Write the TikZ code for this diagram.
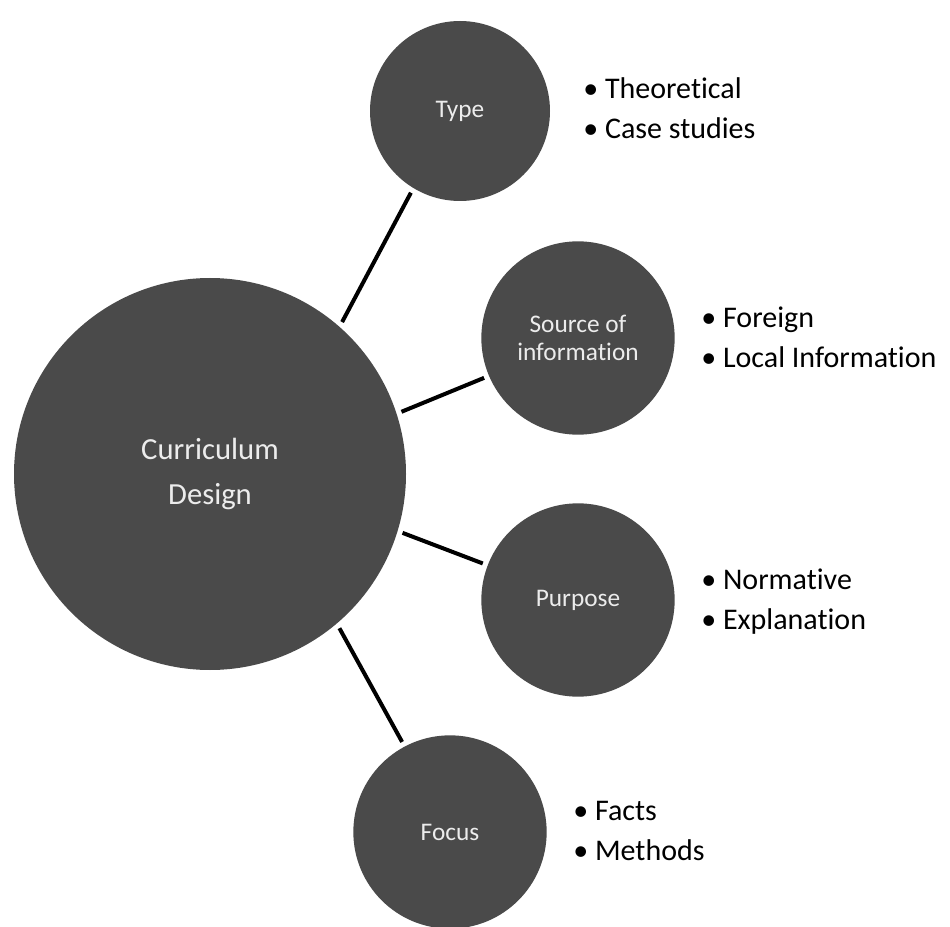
\documentclass[tikz,border=0pt]{standalone}
\usepackage{fontspec}
\setmainfont{Carlito}[Ligatures={NoCommon,NoContextual}]
\usepackage{color}
\usetikzlibrary{positioning}
\definecolor{discgray}{HTML}{4A4A4A}
\definecolor{disctext}{HTML}{ECECEC}
\newcommand{\nolig}{\kern0pt}
\tikzset{every picture/.style={line width=0.5pt}}
\tikzstyle{hub}=[circle,fill=discgray,text=disctext,minimum size=294pt,inner sep=0pt,outer sep=4pt,align=center,font=\fontsize{23}{34}\selectfont]
\tikzstyle{spoke}=[circle,fill=discgray,text=disctext,minimum size=145pt,inner sep=0pt,outer sep=4pt,align=center,font=\fontsize{19}{21}\selectfont]
\tikzstyle{items}=[anchor=west,align=left,inner sep=0pt,font=\fontsize{22.5}{30}\selectfont]
\begin{document}
\begin{tikzpicture}[x=0.75pt,y=-0.75pt]
\useasboundingbox (0,0) rectangle (950,927);
\node[hub] (cd) at (210,474) {Curriculum\\Design};
\node[spoke,minimum size=135pt] (type) at (460,111) {Type};
\node[spoke] (source) at (578,338) {Source of\\informat\nolig ion};
\node[spoke] (purpose) at (578,600) {Purpose};
\node[spoke] (focus) at (450,832) {Focus};
\node[items] (typelist) at (583,108) {\textbullet~Theoret\nolig ical\\\textbullet~Case studies};
\node[items] (sourcelist) at (701,337) {\textbullet~Foreign\\\textbullet~Local Informat\nolig ion};
\node[items] (purposelist) at (701,602) {\textbullet~Normat\nolig ive\\\textbullet~Explanat\nolig ion};
\node[items] (focuslist) at (573,831) {\textbullet~Facts\\\textbullet~Methods};
\path[line width=3pt]
(cd.49) edge (type.239)
(cd.18) edge (source.203)
(cd.343) edge (purpose.159)
(cd.310) edge (focus.118);
\end{tikzpicture}
\end{document}
